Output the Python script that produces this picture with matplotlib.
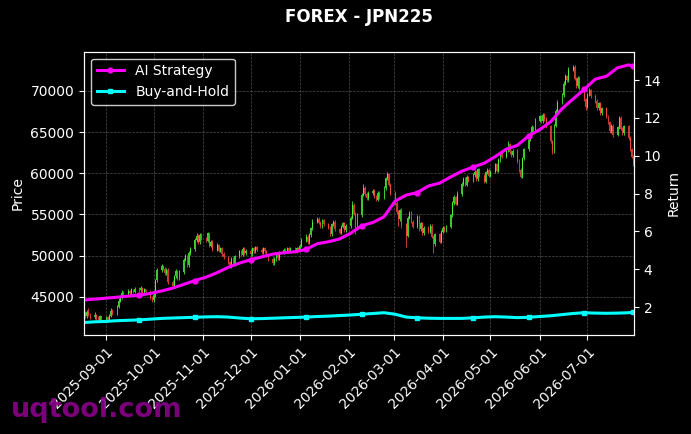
import numpy as np
import pandas as pd
import matplotlib
matplotlib.use("Agg")
import matplotlib.pyplot as plt
import matplotlib.dates as mdates

# daily candles (weekdays), open = previous close
first_open = 43200
closes = [
    43000, 42600, 43200, 42800, 42500,
    42800, 42400, 42200, 42600, 42300,
    42500, 42100, 42700, 43300, 43000,
    43800, 44500, 44900, 45500, 45300,
    45700, 45400, 45900, 45600, 46000,
    45800, 46100, 45500, 45900, 45600,
    44900, 44600, 45200, 47000, 48200,
    48700, 48400, 47900, 48300, 46800,
    46300, 47500, 48100, 47200, 48000,
    49500, 49900, 48800, 50300, 50800,
    51900, 52400, 51600, 52500, 52100,
    51800, 52700, 51200, 51700, 50700,
    51300, 50600, 50900, 50200, 49800,
    49200, 48700, 49600, 48900, 49900,
    50500, 50100, 50800, 50300, 50600,
    50200, 50900, 50500, 51000, 50700,
    50400, 50900, 50500, 50000, 49600,
    49100, 49600, 50100, 49700, 50400,
    50700, 50500, 50900, 50600, 50800,
    50500, 50900, 50700, 51200, 51900,
    52300, 51600, 52500, 53300, 54100,
    54500, 54000, 53600, 54300, 53800,
    53400, 52600, 53800, 54100, 53200,
    52800, 53500, 53900, 53100, 53600,
    54600, 56200, 55100, 53300, 54900,
    57400, 58200, 57500, 57000, 57600,
    57900, 57200, 56800, 57600, 57100,
    58200, 59400, 59900, 58600, 57600,
    56400, 55300, 54400, 55500, 53800,
    52400, 54600, 55200, 54100, 53500,
    54700, 53200, 53900, 52700, 53400,
    52900, 53600, 52300, 51400, 52600,
    51700, 52900, 53400, 53100, 53500,
    54900, 56400, 57100, 56300, 57500,
    58700, 59300, 58600, 59500, 59100,
    59800, 60200, 59300, 60500, 59700,
    59000, 60100, 60400, 59700, 60200,
    61100, 60300, 61600, 62400, 62000,
    62800, 63500, 62600, 62200, 62700,
    61500, 60400, 59600, 61800, 62900,
    64100, 64800, 65600, 65100, 66400,
    66900, 66300, 67100, 66600, 65700,
    63900, 62700, 65800, 67600, 68600,
    69500, 70900, 71800, 71300, 72600,
    72900, 71500, 70600, 71600, 70300,
    69000, 68100, 69600, 70100, 69400,
    68800, 67900, 68500, 67300, 67900,
    66900, 66200, 65100, 65800, 64700,
    65600, 66700, 65400, 64900, 65700,
    64300, 62900, 62000, 61300,
]
highs = [
    43500, 43300, 43400, 43600, 43000,
    43100, 42900, 42600, 42800, 42700,
    42700, 42600, 42900, 43600, 43500,
    44000, 44800, 45200, 45800, 45700,
    45900, 45800, 46100, 46000, 46200,
    46200, 46300, 46200, 46100, 46000,
    45800, 45100, 45400, 47200, 48500,
    49000, 48900, 48600, 48500, 48500,
    47000, 47700, 48400, 48300, 48200,
    49700, 50200, 50100, 50500, 51100,
    52100, 52700, 52600, 52800, 52700,
    52300, 52900, 52800, 51900, 51900,
    51500, 51400, 51100, 51100, 50400,
    50000, 49400, 49800, 49800, 50100,
    50700, 50700, 51000, 51000, 50800,
    50800, 51100, 51100, 51200, 51200,
    50900, 51100, 51100, 50700, 50200,
    49800, 49800, 50300, 50300, 50600,
    50900, 50900, 51100, 51100, 51000,
    51000, 51100, 51100, 51400, 52100,
    52600, 52500, 52700, 53500, 54400,
    54700, 54700, 54200, 54500, 54500,
    54000, 53600, 54000, 54300, 54300,
    53400, 53700, 54100, 54100, 53800,
    54800, 56600, 56400, 55300, 55200,
    57600, 58700, 58400, 57700, 57800,
    58100, 58100, 57400, 57800, 57800,
    58400, 59600, 60100, 60000, 58800,
    57800, 56600, 55500, 55700, 55800,
    54000, 54800, 55400, 55400, 54300,
    54900, 54900, 54100, 54100, 53600,
    53600, 53800, 53800, 52500, 52800,
    52800, 53100, 53600, 53600, 53700,
    55100, 56600, 57400, 57300, 57800,
    58900, 59600, 59500, 59800, 59700,
    60000, 60400, 60400, 60700, 60700,
    59900, 60300, 60600, 60600, 60400,
    61300, 61300, 61800, 62600, 62600,
    63000, 63900, 63700, 62800, 62900,
    62900, 61700, 60600, 62000, 63100,
    64300, 65000, 65900, 65800, 66700,
    67100, 67100, 67300, 67300, 66800,
    65900, 64100, 66000, 67800, 68900,
    69800, 71200, 72100, 72000, 72900,
    73200, 73100, 71700, 71800, 71800,
    70500, 69200, 69800, 70400, 70300,
    69600, 69000, 68700, 68700, 68100,
    68100, 67100, 66400, 66000, 66000,
    65800, 67000, 66900, 65600, 65900,
    65900, 64500, 63100, 62200,
]
lows = [
    42800, 42400, 42400, 42600, 42300,
    42300, 42200, 42000, 42100, 42100,
    42100, 41900, 42000, 42500, 42800,
    42800, 43600, 44300, 44700, 45000,
    45100, 45200, 45200, 45400, 45400,
    45600, 45600, 45300, 45300, 45400,
    44700, 44400, 44400, 45000, 46800,
    48000, 48200, 47700, 47700, 46600,
    46100, 46100, 47300, 47000, 47000,
    47800, 49300, 48600, 48600, 50100,
    50600, 51700, 51400, 51400, 51900,
    51600, 51600, 51000, 51000, 50500,
    50500, 50400, 50400, 50000, 49600,
    49000, 48500, 48500, 48700, 48700,
    49700, 49900, 49900, 50100, 50100,
    50000, 50000, 50300, 50300, 50500,
    50200, 50200, 50300, 49800, 49400,
    48900, 48900, 49400, 49500, 49500,
    50200, 50300, 50300, 50400, 50400,
    50300, 50300, 50500, 50500, 51000,
    51700, 51400, 51400, 52300, 53100,
    53900, 53800, 53400, 53400, 53600,
    53200, 52400, 52400, 53600, 53000,
    52600, 52600, 53300, 52900, 52900,
    53400, 54400, 54900, 52600, 53100,
    54700, 57200, 57300, 56800, 56800,
    57400, 57000, 56600, 56600, 56900,
    56900, 58000, 59200, 58400, 57400,
    56200, 55100, 53600, 54200, 53400,
    51000, 52200, 54400, 53900, 53300,
    53300, 53000, 53000, 52500, 52500,
    52700, 52700, 52100, 50300, 51200,
    51500, 51500, 52700, 52900, 52900,
    53300, 54700, 56200, 56100, 56100,
    57300, 58500, 58400, 58400, 58900,
    58900, 59600, 59100, 59100, 59500,
    58800, 58800, 59900, 59500, 59500,
    60000, 60100, 60100, 61400, 61800,
    61800, 62600, 62400, 62000, 62000,
    61300, 60200, 59400, 59400, 61600,
    62700, 63900, 64600, 64900, 64900,
    66200, 66100, 66100, 66400, 65500,
    63700, 62400, 62500, 65600, 67400,
    68400, 69300, 70700, 71100, 71100,
    72400, 71300, 70400, 70400, 70100,
    68800, 67700, 67900, 69400, 69200,
    68600, 67700, 67700, 67100, 67100,
    66700, 66000, 64900, 64900, 64400,
    64500, 65400, 65200, 64700, 64700,
    64100, 62700, 61800, 60900,
]

# weekly returns (first trading day of each week) + last day
ai_strategy = [
    2.37, 2.42, 2.47, 2.52, 2.58, 2.63, 2.72, 2.85, 3.00, 3.20,
    3.40, 3.58, 3.82, 4.10, 4.32, 4.50, 4.65, 4.80, 4.87, 4.92,
    5.05, 5.35, 5.45, 5.60, 5.90, 6.30, 6.47, 6.77, 7.60, 7.92,
    8.05, 8.40, 8.55, 8.88, 9.18, 9.40, 9.60, 9.95, 10.35, 10.55,
    11.05, 11.38, 11.80, 12.48, 13.00, 13.50, 14.05, 14.20, 14.65, 14.80,
    14.72,
]
buy_and_hold = [
    1.18, 1.22, 1.24, 1.28, 1.30, 1.32, 1.36, 1.40, 1.42, 1.44,
    1.46, 1.48, 1.49, 1.47, 1.42, 1.38, 1.39, 1.41, 1.43, 1.45,
    1.47, 1.50, 1.52, 1.55, 1.58, 1.62, 1.66, 1.70, 1.62, 1.47,
    1.43, 1.41, 1.40, 1.40, 1.40, 1.43, 1.47, 1.49, 1.47, 1.44,
    1.46, 1.50, 1.54, 1.60, 1.66, 1.70, 1.68, 1.67, 1.68, 1.70,
    1.72,
]

dates = pd.bdate_range("2025-08-18", periods=len(closes))
x = mdates.date2num(dates.to_pydatetime())
opens = np.array([first_open] + closes[:-1])
closes = np.array(closes)
highs = np.array(highs)
lows = np.array(lows)

ret_x = np.append(x[::5], x[-1])

up_color = "#4dff3a"
down_color = "#ff4a3d"

fig = plt.figure(figsize=(6.91, 4.34), dpi=100, facecolor="black")
ax = fig.add_subplot(111)
fig.subplots_adjust(left=0.1216, right=0.9175, top=0.881, bottom=0.228)
ax.set_facecolor("black")

colors = np.where(closes >= opens, up_color, down_color)
ax.vlines(x, lows, highs, colors=colors, linewidth=0.7, alpha=0.8)
ax.bar(x, np.abs(closes - opens), bottom=np.minimum(opens, closes),
       width=0.55, color=colors, alpha=0.8, linewidth=0)

ax.set_xlim(mdates.date2num(pd.Timestamp("2025-08-18 05:00").to_pydatetime()),
            mdates.date2num(pd.Timestamp("2026-07-30 08:00").to_pydatetime()))
ax.set_ylim(40344, 74780)
ax.xaxis.set_major_locator(mdates.MonthLocator())
ax.xaxis.set_major_formatter(mdates.DateFormatter("%Y-%m-%d"))
plt.setp(ax.get_xticklabels(), rotation=45, ha="right", rotation_mode="anchor")
ax.set_ylabel("Price", color="white")
ax.grid(True, color="gray", linestyle="--", linewidth=0.5, alpha=0.6)
ax.set_title("FOREX - JPN225", color="white", fontweight="bold", fontsize=12, pad=21)

ax2 = ax.twinx()
ax2.plot(ret_x, ai_strategy, color="#ff00ff", linewidth=2.2, marker="o",
         markersize=3.5, markevery=slice(5, None, 5), label="AI Strategy")
ax2.plot(ret_x, buy_and_hold, color="#00ffff", linewidth=2.2, marker="s",
         markersize=3.5, markevery=slice(5, None, 5), label="Buy-and-Hold")
ax2.set_ylim(0.52, 15.5)
ax2.set_ylabel("Return", color="white")

for a in (ax, ax2):
    a.tick_params(colors="white")
    for s in a.spines.values():
        s.set_color("white")

leg = ax2.legend(loc="upper left", facecolor="black", edgecolor="white")
for t in leg.get_texts():
    t.set_color("white")

fig.text(0.016, 0.039, "uqtool.com", color="#8b008b", fontsize=19.5,
         fontweight="bold", alpha=0.9)

fig.savefig("out.png", dpi=100, facecolor="black")
